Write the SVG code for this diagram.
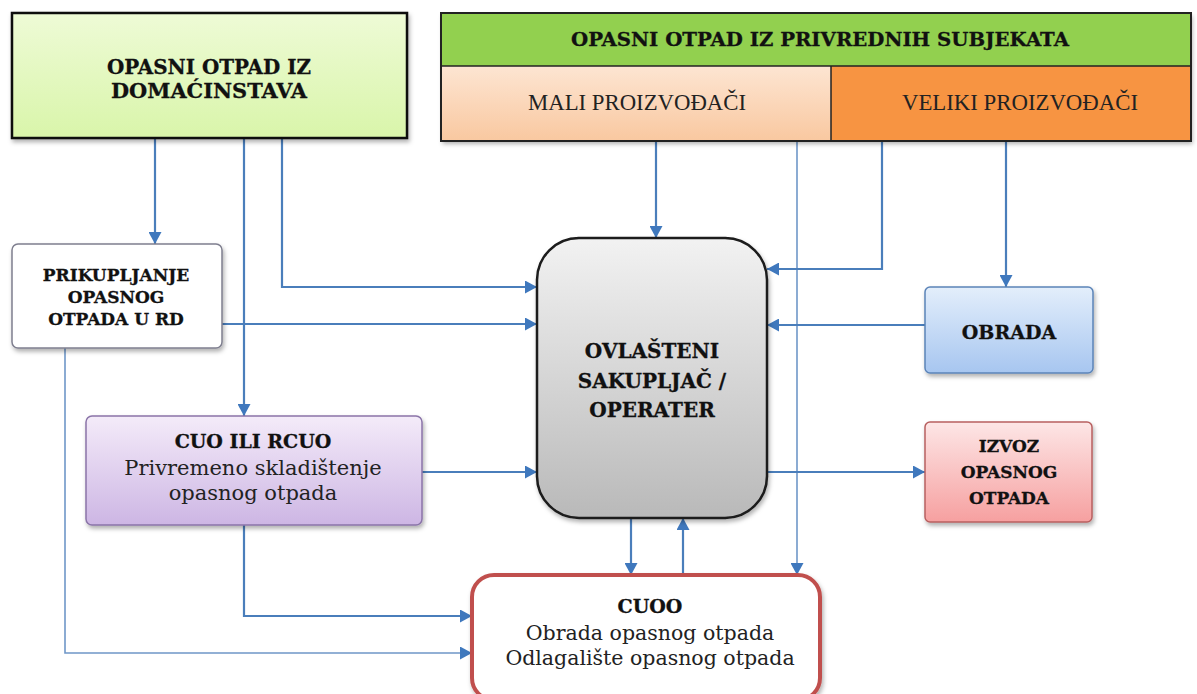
<svg xmlns="http://www.w3.org/2000/svg" width="1197" height="694" viewBox="0 0 1197 694">
  <defs>
    <linearGradient id="gA" x1="0" y1="0" x2="0" y2="1">
      <stop offset="0" stop-color="#eefbd6"/>
      <stop offset="1" stop-color="#d9f5aa"/>
    </linearGradient>
    <linearGradient id="gMali" x1="0" y1="0" x2="0" y2="1">
      <stop offset="0" stop-color="#fde5d2"/>
      <stop offset="1" stop-color="#f9c8a0"/>
    </linearGradient>
    <linearGradient id="gCuo" x1="0" y1="0" x2="0" y2="1">
      <stop offset="0" stop-color="#f4ebf9"/>
      <stop offset="1" stop-color="#cdb6e4"/>
    </linearGradient>
    <linearGradient id="gOp" x1="0" y1="0" x2="0" y2="1">
      <stop offset="0" stop-color="#f2f2f2"/>
      <stop offset="1" stop-color="#b9b9b9"/>
    </linearGradient>
    <linearGradient id="gOb" x1="0" y1="0" x2="0" y2="1">
      <stop offset="0" stop-color="#e3eefb"/>
      <stop offset="1" stop-color="#a7c6f0"/>
    </linearGradient>
    <linearGradient id="gIz" x1="0" y1="0" x2="0" y2="1">
      <stop offset="0" stop-color="#fde6e6"/>
      <stop offset="1" stop-color="#f6a0a0"/>
    </linearGradient>
    <filter id="sh" x="-10%" y="-10%" width="125%" height="130%">
      <feDropShadow dx="1.5" dy="3" stdDeviation="2" flood-color="#000" flood-opacity="0.3"/>
    </filter>
    <marker id="ar" markerUnits="userSpaceOnUse" markerWidth="13" markerHeight="13" refX="12" refY="6.5" orient="auto">
      <path d="M0,0 L12,6.5 L0,13 z" fill="#3f78bd"/>
    </marker>
  </defs>
  <style>
    .b { font-family: "DejaVu Serif", "Liberation Serif", serif; font-weight: bold; fill: #111; text-anchor: middle; stroke: #111; stroke-width: 0.3; }
    .r { font-family: "DejaVu Serif", "Liberation Serif", serif; fill: #222; text-anchor: middle; }
    .c { font-family: "Liberation Serif", serif; fill: #222; text-anchor: middle; }
    .ln { fill: none; stroke: #4a7ebb; stroke-width: 2.2; }
    .lt { fill: none; stroke: #6f97c8; stroke-width: 1.6; }
  </style>
  <rect width="1197" height="694" fill="#ffffff"/>

  <g id="connectors">
    <path class="ln" d="M155,139 V244" marker-end="url(#ar)"/>
    <path class="ln" d="M244,139 V416" marker-end="url(#ar)"/>
    <path class="ln" d="M282,139 V287 H537" marker-end="url(#ar)"/>
    <path class="ln" d="M222,324 H537" marker-end="url(#ar)"/>
    <path class="lt" d="M65,348 V653 H472" marker-end="url(#ar)"/>
    <path class="ln" d="M422,472 H537" marker-end="url(#ar)"/>
    <path class="ln" d="M244,525 V616 H472" marker-end="url(#ar)"/>
    <path class="ln" d="M656,141 V238" marker-end="url(#ar)"/>
    <path class="lt" d="M797,141 V575" marker-end="url(#ar)"/>
    <path class="ln" d="M882,141 V269 H767" marker-end="url(#ar)"/>
    <path class="ln" d="M1006,141 V287" marker-end="url(#ar)"/>
    <path class="ln" d="M925,325 H767" marker-end="url(#ar)"/>
    <path class="ln" d="M767,472 H925" marker-end="url(#ar)"/>
    <path class="ln" d="M631,518 V575" marker-end="url(#ar)"/>
    <path class="ln" d="M683,575 V518" marker-end="url(#ar)"/>
  </g>

  <g id="domacinstva">
    <rect x="12" y="13" width="395" height="125" fill="url(#gA)" stroke="#111" stroke-width="2.5" filter="url(#sh)"/>
    <text class="b" x="209" y="74" font-size="21" textLength="204" lengthAdjust="spacingAndGlyphs">OPASNI OTPAD IZ</text>
    <text class="b" x="209" y="98" font-size="21" textLength="196" lengthAdjust="spacingAndGlyphs">DOMAĆINSTAVA</text>
  </g>

  <g id="privredni">
    <g filter="url(#sh)">
      <rect x="441" y="13" width="750" height="53" fill="#92d050"/>
      <rect x="441" y="66" width="390" height="75" fill="url(#gMali)"/>
      <rect x="831" y="66" width="360" height="75" fill="#f79442"/>
    </g>
    <rect x="441" y="13" width="750" height="128" fill="none" stroke="#222" stroke-width="2"/>
    <line x1="441" y1="66" x2="1191" y2="66" stroke="#222" stroke-width="1.5"/>
    <line x1="831" y1="66" x2="831" y2="141" stroke="#222" stroke-width="1.5"/>
    <text class="b" x="820" y="46" font-size="19" textLength="498" lengthAdjust="spacingAndGlyphs">OPASNI OTPAD IZ PRIVREDNIH SUBJEKATA</text>
    <text class="c" x="637" y="110" font-size="24" textLength="218" lengthAdjust="spacingAndGlyphs">MALI PROIZVOĐAČI</text>
    <text class="c" x="1020" y="110" font-size="24" textLength="236" lengthAdjust="spacingAndGlyphs">VELIKI PROIZVOĐAČI</text>
  </g>

  <g id="prikupljanje">
    <rect x="12" y="244" width="210" height="104" rx="6" fill="#ffffff" stroke="#7f7f8f" stroke-width="1.5" filter="url(#sh)"/>
    <text class="b" x="116" y="281" font-size="17">PRIKUPLJANJE</text>
    <text class="b" x="116" y="303" font-size="17">OPASNOG</text>
    <text class="b" x="116" y="325" font-size="17">OTPADA U RD</text>
  </g>

  <g id="cuo">
    <rect x="86" y="416" width="336" height="109" rx="6" fill="url(#gCuo)" stroke="#8a74a8" stroke-width="1.5" filter="url(#sh)"/>
    <text class="b" x="253" y="448" font-size="19">CUO ILI RCUO</text>
    <text class="r" x="253" y="475" font-size="21">Privremeno skladištenje</text>
    <text class="r" x="253" y="500" font-size="21">opasnog otpada</text>
  </g>

  <g id="operater">
    <rect x="537" y="238" width="230" height="280" rx="42" fill="url(#gOp)" stroke="#1a1a1a" stroke-width="2.5" filter="url(#sh)"/>
    <text class="b" x="652" y="358" font-size="20">OVLAŠTENI</text>
    <text class="b" x="652" y="388" font-size="20">SAKUPLJAČ /</text>
    <text class="b" x="652" y="417" font-size="20">OPERATER</text>
  </g>

  <g id="obrada">
    <rect x="925" y="287" width="168" height="86" rx="5" fill="url(#gOb)" stroke="#5b84b8" stroke-width="1.5" filter="url(#sh)"/>
    <text class="b" x="1009" y="339" font-size="19">OBRADA</text>
  </g>

  <g id="izvoz">
    <rect x="925" y="422" width="167" height="100" rx="5" fill="url(#gIz)" stroke="#b86060" stroke-width="1.5" filter="url(#sh)"/>
    <text class="b" x="1009" y="452" font-size="17">IZVOZ</text>
    <text class="b" x="1009" y="478" font-size="17">OPASNOG</text>
    <text class="b" x="1009" y="504" font-size="17">OTPADA</text>
  </g>

  <g id="cuoo">
    <rect x="472" y="575" width="348" height="125" rx="22" fill="#ffffff" stroke="#c0504d" stroke-width="4" filter="url(#sh)"/>
    <text class="b" x="650" y="613" font-size="19">CUOO</text>
    <text class="r" x="650" y="640" font-size="20.5">Obrada opasnog otpada</text>
    <text class="r" x="650" y="665" font-size="20.5">Odlagalište opasnog otpada</text>
  </g>
</svg>
